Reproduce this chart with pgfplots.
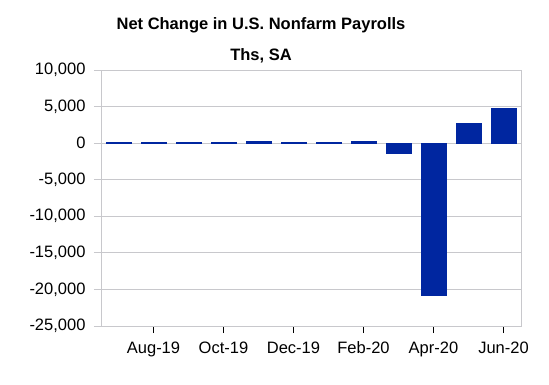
\documentclass[border=0pt]{standalone}
\usepackage{pgfplots}
\pgfplotsset{compat=1.18}
\usepackage{fontspec}
\setmainfont{Liberation Sans}
\definecolor{barblue}{RGB}{0,38,160}
\definecolor{gridgray}{RGB}{200,200,204}
\begin{document}
\begin{tikzpicture}[x=1pt,y=1pt]
\path (0,0) rectangle (549,384);
\begin{axis}[
  at={(101pt,58pt)}, anchor=south west,
  scale only axis, width=420pt, height=256pt,
  xmin=-0.5, xmax=11.5,
  ymin=-25000, ymax=10000,
  ytick={-25000,-20000,...,10000},
  scaled y ticks=false,
  xtick={1,3,5,7,9,11},
  xticklabels={Aug-19,Oct-19,Dec-19,Feb-20,Apr-20,Jun-20},
  tick pos=left,
  ymajorgrids,
  grid style={gridgray, line width=0.8pt},
  axis line style={gridgray, line width=0.8pt},
  tick align=outside,
  major tick length=7pt,
  xtick style={black, line width=0.8pt},
  ytick style={gridgray, line width=0.8pt},
  x tick label style={font=\fontsize{16.5}{18}\selectfont, yshift=-5pt},
  y tick label style={font=\fontsize{16.5}{18}\selectfont, xshift=-5pt},
  /pgf/number format/.cd, 1000 sep={,}, assume math mode=true,
]
\addplot[ybar, bar width=25pt, fill=barblue, draw=barblue] coordinates {
  (0,120) (1,130) (2,125) (3,130) (4,261) (5,130)
  (6,140) (7,251) (8,-1373) (9,-20787) (10,2725) (11,4800)
};
\end{axis}
\node[font=\bfseries\fontsize{16.5}{18}\selectfont] at (261,359) {Net Change in U.S. Nonfarm Payrolls};
\node[font=\bfseries\fontsize{16.5}{18}\selectfont] at (261,328) {Ths, SA};
\end{tikzpicture}
\end{document}
